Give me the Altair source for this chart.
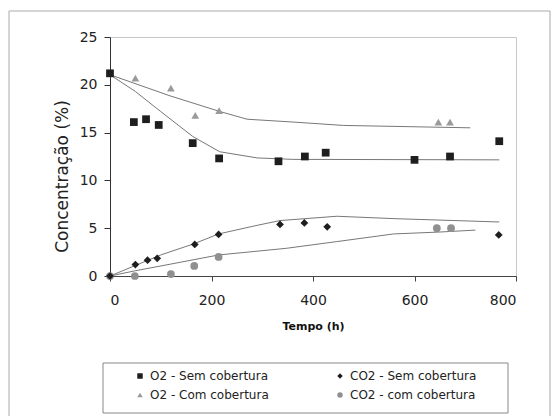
import altair as alt
import pandas as pd

# ---------------- data ----------------
series_names = ["O2 - Sem cobertura", "O2 - Com cobertura",
                "CO2 - Sem cobertura", "CO2 - com cobertura"]
series_colors = ["#1e1e1e", "#9a9a9a", "#1e1e1e", "#909090"]
series_shapes = ["square", "triangle-up", "diamond", "circle"]

o2_sem_t = [0, 47, 71, 96, 163, 215, 332, 384, 425, 600, 670, 767]
o2_sem_v = [21.2, 16.1, 16.4, 15.8, 13.9, 12.3, 12.0, 12.5, 12.9, 12.15, 12.5, 14.1]

o2_com_t = [0, 50, 120, 168, 215, 647, 670]
o2_com_v = [21.2, 20.7, 19.65, 16.8, 17.3, 16.1, 16.1]

co2_sem_t = [0, 50, 74, 93, 167, 214, 335, 383, 428, 766]
co2_sem_v = [0.0, 1.2, 1.65, 1.85, 3.3, 4.35, 5.4, 5.55, 5.15, 4.3]

co2_com_t = [0, 49, 120, 166, 214, 644, 672]
co2_com_v = [0.0, 0.0, 0.2, 1.05, 2.0, 5.0, 5.0]

# trend lines (as drawn in the reference)
tl_o2_sem_t = [0, 50, 100, 163, 216, 290, 360, 767]
tl_o2_sem_v = [21.05, 19.3, 17.2, 14.6, 13.0, 12.35, 12.2, 12.15]
tl_o2_com_t = [0, 118, 217, 270, 362, 460, 710]
tl_o2_com_v = [21.05, 18.85, 17.2, 16.4, 16.1, 15.75, 15.5]
tl_co2_sem_t = [0, 50, 100, 167, 214, 290, 335, 447, 560, 767]
tl_co2_sem_v = [0.0, 1.1, 2.2, 3.4, 4.4, 5.3, 5.8, 6.25, 6.0, 5.65]
tl_co2_com_t = [0, 50, 120, 214, 348, 447, 559, 650, 720]
tl_co2_com_v = [0.0, 0.55, 1.25, 2.2, 2.9, 3.6, 4.4, 4.6, 4.8]

x_ticks = [0, 200, 400, 600, 800]
y_ticks = [0, 5, 10, 15, 20, 25]

# ---------------- tables ----------------
pts = []
for name, ts, vs in [("O2 - Com cobertura", o2_com_t, o2_com_v),
                     ("CO2 - com cobertura", co2_com_t, co2_com_v),
                     ("O2 - Sem cobertura", o2_sem_t, o2_sem_v),
                     ("CO2 - Sem cobertura", co2_sem_t, co2_sem_v)]:
    for t, v in zip(ts, vs):
        pts.append({"t": t, "v": v, "serie": name})
pts = pd.DataFrame(pts)

lines = []
for name, ts, vs in [("a", tl_o2_sem_t, tl_o2_sem_v),
                     ("b", tl_o2_com_t, tl_o2_com_v),
                     ("c", tl_co2_sem_t, tl_co2_sem_v),
                     ("d", tl_co2_com_t, tl_co2_com_v)]:
    for i, (t, v) in enumerate(zip(ts, vs)):
        lines.append({"t": t, "v": v, "linha": name, "ordem": i})
lines = pd.DataFrame(lines)

FONT = "DejaVu Sans"

x_scale = alt.Scale(domain=[0, 800], nice=False)
y_scale = alt.Scale(domain=[0, 25], nice=False)

x_axis = alt.Axis(values=x_ticks, title="Tempo (h)", titleFontWeight="bold",
                  titleFontSize=11, titleFont=FONT, labelFont=FONT, labelFontSize=14,
                  tickSize=5, labelPadding=12, domainColor="#444", tickColor="#444",
                  labelColor="#222", titleColor="#111", grid=False,
                  titleY=50, titleBaseline="middle")
y_axis = alt.Axis(values=y_ticks, title="Concentração (%)", titleFontWeight="normal",
                  titleFontSize=17, titleFont=FONT, labelFont=FONT, labelFontSize=14,
                  tickSize=6, labelPadding=7, domainColor="#333", tickColor="#333",
                  labelColor="#222", titleColor="#222", grid=False,
                  titleX=-48, titleY=139, titleAngle=270, titleBaseline="middle",
                  titleAlign="center")

trend = alt.Chart(lines).mark_line(color="#777", strokeWidth=1).encode(
    x=alt.X("t:Q", scale=x_scale, axis=x_axis),
    y=alt.Y("v:Q", scale=y_scale, axis=y_axis),
    detail="linha:N",
    order="ordem:Q",
)

points = alt.Chart(pts).mark_point(filled=True, opacity=1, size=60).encode(
    x=alt.X("t:Q", scale=x_scale),
    y=alt.Y("v:Q", scale=y_scale),
    color=alt.Color("serie:N",
                    scale=alt.Scale(domain=series_names, range=series_colors),
                    legend=alt.Legend(title=None, orient="none", legendX=24, legendY=333,
                                      columns=2, columnPadding=65, rowPadding=7,
                                      symbolSize=30, labelFont=FONT, labelFontSize=12,
                                      labelColor="#222", labelOffset=4,
                                      symbolStrokeWidth=0)),
    shape=alt.Shape("serie:N",
                    scale=alt.Scale(domain=series_names, range=series_shapes)),
)

one = pd.DataFrame({"a": [0]})
legend_box = alt.Chart(one).mark_rect(fill="white", stroke="#888", strokeWidth=1).encode(
    x=alt.value(-7), x2=alt.value(398), y=alt.value(326), y2=alt.value(376))
outer_box = alt.Chart(one).mark_rect(fill="white", fillOpacity=0, stroke="#aaa",
                                     strokeWidth=1).encode(
    x=alt.value(-101), x2=alt.value(440), y=alt.value(-26), y2=alt.value(395))

chart = alt.layer(outer_box, legend_box, trend, points).properties(
    width=406, height=239,
    padding={"left": 110, "top": 37, "right": 39, "bottom": 140},
    autosize=alt.AutoSizeParams(type="none"),
    background="white",
).configure_view(stroke="#c8c8c8", strokeWidth=1).configure_axis(
    labelFont=FONT, titleFont=FONT)

chart.save("out.html", embed_options={"renderer": "svg", "actions": False})
